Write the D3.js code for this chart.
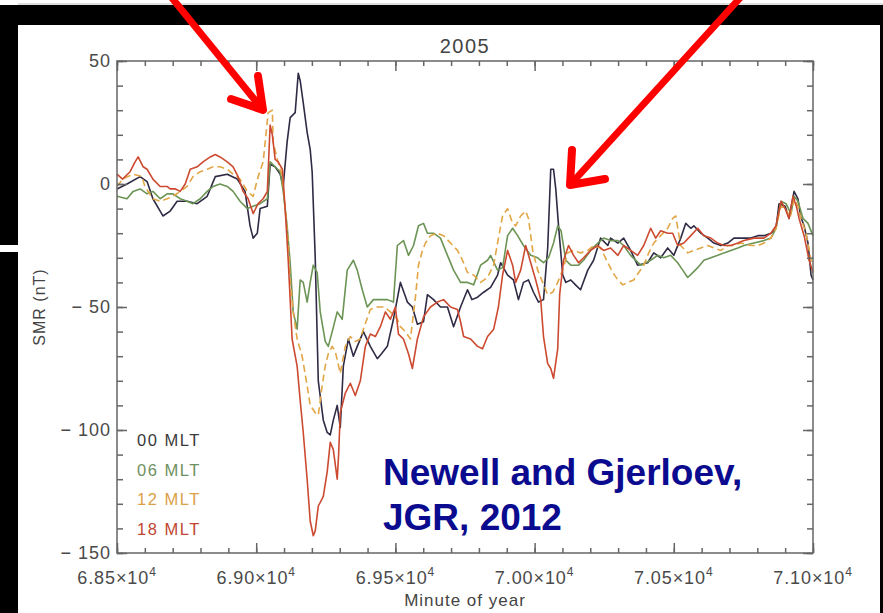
<!DOCTYPE html>
<html>
<head>
<meta charset="utf-8">
<script src="https://cdn.jsdelivr.net/npm/d3@7"></script>
<style>
body { margin: 0; background: #fff; }
svg { display: block; font-family: "Liberation Sans", Arial, sans-serif; }
</style>
</head>
<body>
<script>

// SMR per MLT sector, [minute of year, nT]
const mlt00 = [[68500,-2],[68536,0],[68583,3],[68608,1],[68629,-6],[68655,-11],[68665,-13],[68691,-11],[68716,-7],[68752,-7],[68788,-8],[68824,-5],[68853,3],[68896,4],[68932,2],[68960,-3],[68978,-17],[68989,-22],[69004,-20],[69014,-10],[69040,-9],[69050,8],[69068,7],[69086,4],[69097,-1],[69111,17],[69122,27],[69140,29],[69151,45],[69158,42],[69169,33],[69183,21],[69194,14],[69201,5],[69212,-30],[69223,-80],[69241,-96],[69255,-101],[69266,-102],[69277,-96],[69291,-90],[69302,-99],[69313,-74],[69331,-63],[69349,-70],[69363,-66],[69385,-60],[69410,-66],[69435,-71],[69450,-69],[69471,-66],[69493,-55],[69518,-40],[69543,-48],[69561,-50],[69579,-57],[69601,-56],[69615,-45],[69637,-47],[69662,-50],[69687,-50],[69709,-58],[69734,-50],[69759,-43],[69775,-47],[69795,-46],[69817,-44],[69842,-42],[69867,-37],[69878,-32],[69903,-37],[69924,-39],[69942,-47],[69960,-40],[69978,-39],[69996,-44],[70014,-48],[70032,-47],[70047,-26],[70058,6],[70068,6],[70076,-2],[70086,-17],[70101,-37],[70112,-40],[70130,-39],[70147,-41],[70165,-43],[70191,-35],[70212,-31],[70237,-22],[70263,-25],[70273,-22],[70299,-24],[70320,-22],[70345,-27],[70370,-33],[70406,-32],[70428,-28],[70453,-30],[70478,-26],[70500,-29],[70525,-22],[70543,-16],[70561,-18],[70572,-17],[70597,-20],[70622,-22],[70644,-24],[70669,-25],[70694,-24],[70716,-22],[70741,-22],[70777,-22],[70802,-21],[70824,-21],[70849,-20],[70867,-18],[70878,-8],[70900,-9],[70914,-14],[70932,-3],[70946,-6],[70955,-13],[70968,-17],[70982,-24],[70993,-37],[71000,-39]];

const mlt06 = [[68500,-5],[68536,-6],[68558,-3],[68583,-2],[68608,-4],[68629,-3],[68655,-6],[68680,-4],[68701,-4],[68727,-6],[68752,-7],[68773,-8],[68799,-6],[68824,-3],[68845,-1],[68870,0],[68896,-1],[68917,-3],[68942,-7],[68968,-10],[68989,-9],[69014,-8],[69040,-6],[69050,9],[69068,7],[69086,5],[69097,-3],[69111,-17],[69122,-32],[69133,-52],[69147,-59],[69158,-39],[69169,-40],[69183,-48],[69194,-40],[69205,-33],[69219,-36],[69230,-52],[69248,-64],[69259,-66],[69273,-60],[69291,-52],[69309,-55],[69327,-35],[69349,-31],[69363,-35],[69381,-43],[69399,-50],[69421,-47],[69446,-47],[69471,-47],[69493,-48],[69507,-25],[69529,-23],[69547,-29],[69565,-25],[69583,-17],[69601,-16],[69615,-20],[69637,-20],[69662,-22],[69687,-29],[69709,-35],[69734,-40],[69759,-40],[69781,-41],[69806,-33],[69831,-31],[69842,-29],[69867,-35],[69885,-34],[69903,-21],[69921,-18],[69939,-21],[69960,-25],[69986,-29],[70011,-30],[70032,-32],[70050,-30],[70068,-24],[70083,-17],[70095,-19],[70112,-31],[70130,-33],[70158,-33],[70176,-31],[70201,-27],[70227,-24],[70248,-22],[70273,-23],[70299,-23],[70320,-25],[70345,-29],[70381,-33],[70417,-31],[70442,-29],[70464,-30],[70489,-29],[70514,-32],[70532,-35],[70550,-38],[70568,-36],[70586,-34],[70608,-31],[70633,-30],[70658,-29],[70680,-28],[70705,-27],[70730,-26],[70752,-25],[70788,-24],[70824,-23],[70849,-22],[70867,-18],[70885,-7],[70903,-8],[70921,-12],[70932,-5],[70946,-7],[70964,-14],[70982,-16],[71000,-21]];

const mlt12 = [[68500,-1],[68520,2],[68558,4],[68590,3],[68600,-1],[68629,-6],[68655,-7],[68680,-6],[68701,-5],[68727,-3],[68752,-1],[68773,3],[68799,5],[68824,6],[68845,7],[68870,7],[68896,6],[68917,4],[68942,2],[68968,-3],[68989,-5],[69007,3],[69025,9],[69043,29],[69058,30],[69061,17],[69076,10],[69094,3],[69104,-10],[69115,-24],[69122,-39],[69133,-52],[69147,-63],[69165,-70],[69183,-82],[69194,-90],[69212,-93],[69223,-94],[69237,-82],[69248,-74],[69259,-69],[69273,-66],[69284,-68],[69302,-77],[69320,-66],[69338,-62],[69356,-64],[69374,-63],[69385,-59],[69410,-51],[69435,-50],[69460,-50],[69482,-52],[69507,-55],[69518,-58],[69536,-60],[69554,-63],[69572,-46],[69583,-33],[69597,-27],[69608,-24],[69626,-21],[69651,-20],[69673,-21],[69698,-24],[69723,-27],[69741,-31],[69759,-36],[69781,-37],[69806,-40],[69831,-38],[69853,-33],[69870,-22],[69885,-13],[69903,-10],[69921,-16],[69932,-17],[69950,-13],[69968,-11],[69978,-14],[69993,-27],[70011,-35],[70029,-40],[70047,-45],[70065,-44],[70083,-40],[70101,-35],[70119,-28],[70140,-27],[70165,-28],[70191,-27],[70212,-25],[70237,-26],[70263,-32],[70281,-36],[70299,-39],[70317,-41],[70335,-40],[70356,-39],[70374,-36],[70392,-33],[70410,-28],[70428,-24],[70453,-21],[70478,-18],[70496,-14],[70507,-13],[70520,-22],[70525,-25],[70550,-28],[70572,-27],[70597,-26],[70622,-25],[70644,-26],[70669,-27],[70694,-25],[70716,-25],[70741,-24],[70777,-25],[70802,-25],[70824,-24],[70849,-22],[70867,-18],[70885,-9],[70903,-10],[70917,-14],[70932,-6],[70946,-9],[70957,-14],[70975,-20],[70993,-31],[71000,-33]];

const mlt18 = [[68500,4],[68520,2],[68547,5],[68565,9],[68576,11],[68594,7],[68608,6],[68629,2],[68655,-1],[68680,-1],[68691,-2],[68710,-2],[68727,-3],[68745,0],[68763,6],[68788,7],[68809,9],[68835,11],[68853,12],[68870,11],[68896,9],[68917,7],[68935,3],[68953,-3],[68971,-6],[68989,-12],[69007,-8],[69025,-6],[69040,-3],[69050,24],[69058,20],[69068,10],[69079,9],[69094,6],[69104,-10],[69115,-31],[69129,-63],[69147,-74],[69158,-88],[69169,-101],[69183,-120],[69194,-137],[69205,-143],[69212,-141],[69223,-131],[69241,-127],[69255,-117],[69266,-105],[69277,-108],[69291,-120],[69296,-110],[69302,-93],[69320,-85],[69338,-81],[69356,-86],[69374,-80],[69392,-66],[69410,-61],[69428,-62],[69446,-58],[69464,-52],[69482,-55],[69500,-50],[69511,-61],[69529,-63],[69547,-69],[69561,-75],[69579,-63],[69601,-54],[69626,-50],[69651,-48],[69673,-47],[69698,-50],[69723,-51],[69734,-56],[69745,-62],[69770,-63],[69795,-66],[69813,-67],[69831,-62],[69853,-59],[69870,-50],[69885,-37],[69903,-27],[69921,-33],[69932,-40],[69950,-35],[69968,-25],[69986,-32],[70004,-39],[70022,-47],[70032,-62],[70047,-73],[70058,-75],[70068,-79],[70083,-67],[70090,-45],[70104,-31],[70122,-25],[70140,-29],[70158,-32],[70176,-30],[70201,-27],[70227,-25],[70248,-27],[70273,-26],[70299,-29],[70320,-25],[70345,-27],[70370,-29],[70392,-25],[70417,-18],[70435,-22],[70453,-19],[70478,-20],[70496,-20],[70514,-25],[70536,-24],[70561,-21],[70586,-18],[70608,-21],[70633,-22],[70658,-24],[70680,-25],[70705,-25],[70730,-24],[70752,-23],[70788,-22],[70824,-22],[70849,-20],[70867,-17],[70885,-7],[70900,-10],[70914,-14],[70928,-5],[70940,-9],[70950,-14],[70968,-21],[70986,-31],[71000,-36]];

const seriesNames = ["00 MLT", "06 MLT", "12 MLT", "18 MLT"];
const xMajor = [68500, 69000, 69500, 70000, 70500, 71000];
const yMajor = [50, 0, -50, -100, -150];

var width = 883, height = 613;

var svg = d3.select("body").append("svg")
    .attr("width", width)
    .attr("height", height);

// slide frame (black bars round the pasted figure)
svg.append("rect").attr("x", 0).attr("y", 0).attr("width", width).attr("height", height).attr("fill", "#fff");
svg.append("line").attr("x1", 18).attr("x2", width).attr("y1", 4).attr("y2", 4).attr("stroke", "#bbb");
svg.append("rect").attr("x", 0).attr("y", 5).attr("width", width).attr("height", 20).attr("fill", "#000");
svg.append("rect").attr("x", 0).attr("y", 5).attr("width", 18).attr("height", 240).attr("fill", "#000");
svg.append("rect").attr("x", 0).attr("y", 252).attr("width", 18).attr("height", height - 252).attr("fill", "#000");
svg.append("rect").attr("x", 880).attr("y", 5).attr("width", 3).attr("height", height - 5).attr("fill", "#000");

var x = d3.scaleLinear().domain([68500, 71000]).range([117, 813]);
var y = d3.scaleLinear().domain([-150, 50]).range([553, 61]);

var colors = ["#2f2b45", "#6c9455", "#e2a646", "#cc4a30"];
var textColors = ["#3a3a3a", "#6f9060", "#dba048", "#c0452e"];

// data lines
var line = d3.line().x(function (d) { return x(d[0]); }).y(function (d) { return y(d[1]); });
var all = [mlt00, mlt06, mlt12, mlt18];
svg.append("g").selectAll("path")
    .data(all)
    .enter().append("path")
    .attr("d", line)
    .attr("fill", "none")
    .attr("stroke", function (d, i) { return colors[i]; })
    .attr("stroke-width", 1.6)
    .attr("stroke-linejoin", "round")
    .attr("stroke-dasharray", function (d, i) { return i === 2 ? "7,4" : null; });

// box with inward ticks on all four sides (IDL style)
var axisColor = "#666";
function styleAxis(g) {
    g.select(".domain").remove();
    g.selectAll("line").attr("stroke", axisColor).attr("stroke-width", 1.5);
}
var xMinor = d3.range(68500, 71001, 100);
var yMinor = d3.range(-150, 51, 10);
svg.append("g").attr("transform", "translate(0,553)")
    .call(d3.axisBottom(x).tickValues(xMinor).tickSize(-5).tickFormat("")).call(styleAxis);
svg.append("g").attr("transform", "translate(0,553)")
    .call(d3.axisBottom(x).tickValues(xMajor).tickSize(-10).tickFormat("")).call(styleAxis);
svg.append("g").attr("transform", "translate(0,61)")
    .call(d3.axisTop(x).tickValues(xMinor).tickSize(-5).tickFormat("")).call(styleAxis);
svg.append("g").attr("transform", "translate(0,61)")
    .call(d3.axisTop(x).tickValues(xMajor).tickSize(-10).tickFormat("")).call(styleAxis);
svg.append("g").attr("transform", "translate(117,0)")
    .call(d3.axisLeft(y).tickValues(yMinor).tickSize(-6).tickFormat("")).call(styleAxis);
svg.append("g").attr("transform", "translate(117,0)")
    .call(d3.axisLeft(y).tickValues(yMajor).tickSize(-10).tickFormat("")).call(styleAxis);
svg.append("g").attr("transform", "translate(813,0)")
    .call(d3.axisRight(y).tickValues(yMinor).tickSize(-6).tickFormat("")).call(styleAxis);
svg.append("g").attr("transform", "translate(813,0)")
    .call(d3.axisRight(y).tickValues(yMajor).tickSize(-10).tickFormat("")).call(styleAxis);
svg.append("rect").attr("x", 117).attr("y", 61).attr("width", 696).attr("height", 492)
    .attr("fill", "none").attr("stroke", axisColor).attr("stroke-width", 1.5);

// tick labels
var labelColor = "#4a4a4a";
var xl = svg.append("g").selectAll("text")
    .data(xMajor)
    .enter().append("text")
    .attr("x", function (d) { return x(d); })
    .attr("y", 584)
    .attr("text-anchor", "middle")
    .attr("fill", labelColor)
    .style("font-size", "18px")
    .style("letter-spacing", "0.9px");
xl.append("tspan").text(function (d) { return (d / 1e4).toFixed(2) + "\u00d710"; });
xl.append("tspan").attr("dy", -8).style("font-size", "12px").text("4");

var fmt = d3.format("d");
svg.append("g").selectAll("text")
    .data(yMajor)
    .enter().append("text")
    .attr("x", 111)
    .attr("y", function (d) { return y(d) + 6; })
    .attr("text-anchor", "end")
    .attr("fill", labelColor)
    .style("font-size", "18px")
    .style("letter-spacing", "1px")
    .text(function (d) { return fmt(d).replace("\u2212", "\u2212 "); });

// titles
svg.append("text").attr("x", 465).attr("y", 53).attr("text-anchor", "middle")
    .attr("fill", "#444").style("font-size", "20px").style("letter-spacing", "1.5px").text("2005");
svg.append("text").attr("x", 465).attr("y", 606).attr("text-anchor", "middle")
    .attr("fill", "#444").style("font-size", "17px").style("letter-spacing", "1px").text("Minute of year");
svg.append("text").attr("transform", "translate(45,307) rotate(-90)").attr("text-anchor", "middle")
    .attr("fill", "#444").style("font-size", "16px").style("letter-spacing", "1px").text("SMR (nT)");

// legend
svg.append("g").selectAll("text")
    .data(seriesNames)
    .enter().append("text")
    .attr("x", 137)
    .attr("y", function (d, i) { return 446 + i * 29.5; })
    .attr("fill", function (d, i) { return textColors[i]; })
    .style("font-size", "16.5px")
    .style("letter-spacing", "1.5px")
    .text(function (d) { return d; });

// citation
var cite = svg.append("text").attr("fill", "#0b0b8f").style("font-size", "37px").style("font-weight", "bold");
cite.append("tspan").attr("x", 383).attr("y", 485).text("Newell and Gjerloev,");
cite.append("tspan").attr("x", 383).attr("y", 530).text("JGR, 2012");

// red arrows pointing at the two spikes
var arrows = [
    {shaft: [[172, -2], [263, 110]], head: [[231, 99], [263, 110], [258, 76]]},
    {shaft: [[740, -2], [570, 185]], head: [[572, 150], [570, 185], [605, 179]]}
];
arrows.forEach(function (a) {
    svg.append("path").attr("d", d3.line()(a.shaft))
        .attr("stroke", "#f00").attr("stroke-width", 7).attr("stroke-linecap", "round").attr("fill", "none");
    svg.append("path").attr("d", d3.line()(a.head))
        .attr("stroke", "#f00").attr("stroke-width", 8).attr("stroke-linecap", "round")
        .attr("stroke-linejoin", "round").attr("fill", "none");
});

</script>
</body>
</html>
